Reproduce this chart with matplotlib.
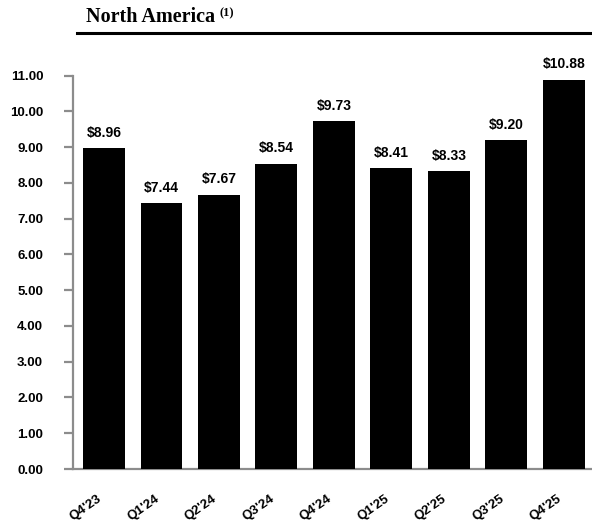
import matplotlib
matplotlib.use("Agg")
import matplotlib.pyplot as plt
from matplotlib.lines import Line2D

categories = ["Q4'23", "Q1'24", "Q2'24", "Q3'24", "Q4'24", "Q1'25", "Q2'25", "Q3'25", "Q4'25"]
values = [8.96, 7.44, 7.67, 8.54, 9.73, 8.41, 8.33, 9.20, 10.88]
yticks = [0, 1, 2, 3, 4, 5, 6, 7, 8, 9, 10, 11]
title = "North America"
title_note = "(1)"

W, H = 592, 523
fig = plt.figure(figsize=(W / 100, H / 100), dpi=100)
fig.patch.set_facecolor("white")

ax_left = 73 / W
ax_bottom = 1 - 469 / H
ylim_top = 11.8
ppu = (469 - 75.5) / 11
ax_height = ylim_top * ppu / H
ax = fig.add_axes([ax_left, ax_bottom, 1 - ax_left, ax_height])

x = list(range(len(categories)))
ax.bar(x, values, width=0.73, color="black", zorder=3)
ax.set_xlim(-0.54, 8.49)
ax.set_ylim(0, ylim_top)

for xi, v in zip(x, values):
    ax.annotate(f"${v:.2f}", (xi, v), xytext=(0, 6), textcoords="offset points",
                ha="center", va="bottom", fontsize=10, fontweight="bold",
                family="Liberation Sans")

gray = "#8c8c8c"
for s in ["top", "right"]:
    ax.spines[s].set_visible(False)
ax.spines["left"].set_bounds(0, 11)
ax.spines["left"].set_color(gray)
ax.spines["left"].set_linewidth(1.6)
ax.spines["bottom"].set_color(gray)
ax.spines["bottom"].set_linewidth(1.6)

ax.set_yticks(yticks)
ax.set_yticklabels([f"{t:.2f}" for t in yticks], fontsize=9.5, fontweight="bold",
                   family="Liberation Sans")
ax.tick_params(axis="y", length=6.5, width=1.6, color=gray, pad=15)

ax.set_xticks(x)
ax.set_xticklabels(categories, rotation=35, ha="right", va="top", fontsize=9.5,
                   fontweight="bold", family="Liberation Sans")
ax.tick_params(axis="x", length=0, pad=17)

# title and rule
t = fig.text(86 / W, 1 - 22 / H, title, fontsize=14.5, fontweight="bold",
             family="Liberation Serif", ha="left", va="baseline")
fig.canvas.draw()
bb = t.get_window_extent(renderer=fig.canvas.get_renderer())
fig.text((bb.x1 + 4) / W, 1 - 16 / H, title_note, fontsize=9, fontweight="bold",
         family="Liberation Serif", ha="left", va="baseline")
fig.add_artist(Line2D([77 / W, 1], [1 - 33 / H, 1 - 33 / H], transform=fig.transFigure,
                      color="black", linewidth=2.2))

fig.savefig("out.png", dpi=100, facecolor="white")
